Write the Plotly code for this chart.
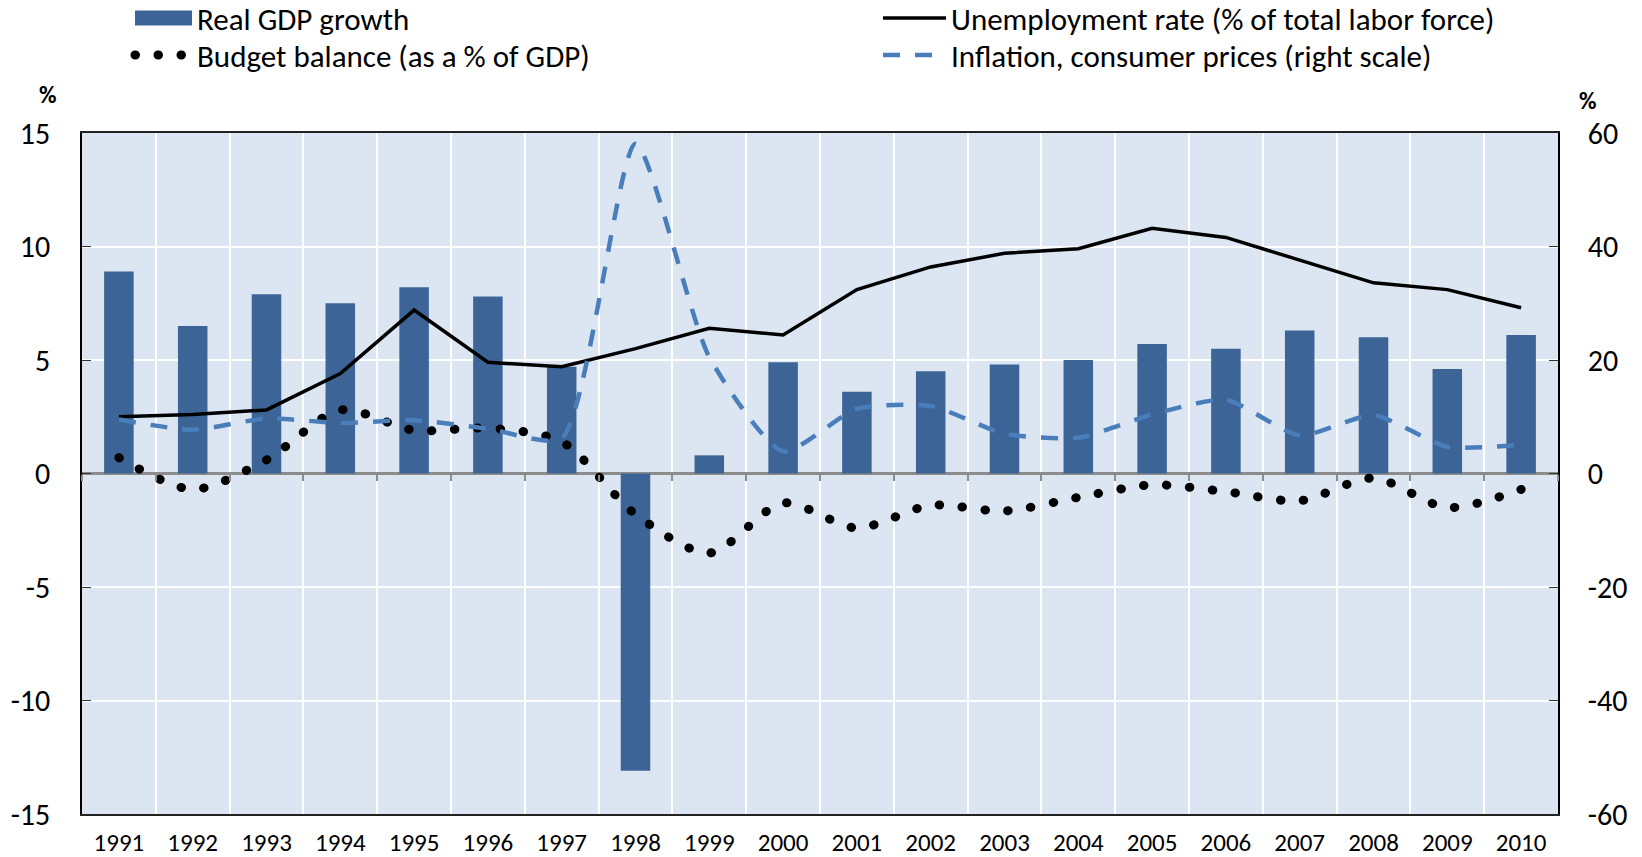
import plotly.graph_objects as go

# ---------------- data ----------------
years = [str(y) for y in range(1991, 2011)]
gdp_growth = [8.9, 6.5, 7.9, 7.5, 8.2, 7.8, 4.7, -13.1, 0.8, 4.9,
              3.6, 4.5, 4.8, 5.0, 5.7, 5.5, 6.3, 6.0, 4.6, 6.1]
unemployment = [2.5, 2.6, 2.8, 4.4, 7.2, 4.9, 4.7, 5.5, 6.4, 6.1,
                8.1, 9.1, 9.7, 9.9, 10.8, 10.4, 9.4, 8.4, 8.1, 7.3]
budget_balance = [0.7, -0.7, 0.6, 2.8, 1.9, 2.0, 1.4, -1.8, -3.5, -1.3,
                  -2.4, -1.4, -1.65, -1.05, -0.5, -0.8, -1.2, -0.2, -1.5, -0.7]
inflation = [9.5, 7.7, 9.7, 8.9, 9.4, 7.9, 6.2, 58.1, 20.5, 3.9,
             11.4, 11.9, 7.0, 6.3, 10.4, 13.0, 6.7, 10.3, 4.7, 5.1]
left_ticks = [-15, -10, -5, 0, 5, 10, 15]
right_ticks = [-60, -40, -20, 0, 20, 40, 60]

# ---------------- style ----------------
W, H = 1642, 857
L, R, T, B = 82, 84, 133, 43
FONT = "Carlito, Calibri, 'Liberation Sans Narrow', 'DejaVu Sans Condensed', 'Open Sans', sans-serif"
BAR = "#3C6496"
DASH = "#4A7EBB"
BG = "#DCE6F2"
LEG_FS = 31

pw = W - L - R
ph = H - T - B


def paper_y(px_from_top):
    return (H - B - px_from_top) / ph


def leg(x_px, top_px, itemwidth):
    return dict(xref="container", yref="paper", x=x_px / W, y=paper_y(top_px),
                xanchor="left", yanchor="top", orientation="v",
                font=dict(size=LEG_FS, family=FONT), bgcolor="rgba(0,0,0,0)",
                traceorder="normal", itemwidth=itemwidth, tracegroupgap=0)


row1_top = 20 - (0.65 * LEG_FS + 8.5)
row2_top = 57 - (0.65 * LEG_FS + 8.5)

fig = go.Figure()
fig.add_trace(go.Bar(x=years, y=gdp_growth, name="Real GDP growth",
                     marker=dict(color=BAR, line=dict(width=0)),
                     legend="legend"))
fig.add_trace(go.Scatter(x=years, y=unemployment, mode="lines",
                         name="Unemployment rate (% of total labor force)",
                         line=dict(color="black", width=3.5),
                         legend="legend2"))
fig.add_trace(go.Scatter(x=years, y=budget_balance, mode="lines",
                         name="Budget balance (as a % of GDP)",
                         line=dict(color="black", width=9, dash="0.5px,22.5px",
                                   shape="spline", smoothing=0.8),
                         legend="legend3"))
fig.add_trace(go.Scatter(x=years, y=inflation, mode="lines",
                         name="Inflation, consumer prices (right scale)",
                         line=dict(color=DASH, width=4.5, dash="17px,15px",
                                   shape="spline", smoothing=0.6),
                         xaxis="x2", yaxis="y2", legend="legend4"))

fig.update_layout(
    width=W, height=H,
    margin=dict(l=L, r=R, t=T, b=B, autoexpand=False),
    paper_bgcolor="white", plot_bgcolor=BG,
    font=dict(family=FONT, color="black", size=26),
    bargap=0.6,
    showlegend=True,
    legend=leg(130, row1_top, 57),
    legend3=leg(130, row2_top, 57),
    legend2=leg(878, row1_top, 63),
    legend4=leg(878, row2_top, 63),
    xaxis=dict(type="category", range=[-0.5, 19.5], tickson="boundaries",
               showgrid=True, gridcolor="white", gridwidth=1.5,
               ticks="", showline=True, linecolor="#222222", linewidth=2,
               mirror=True, tickfont=dict(size=25), ticklabelstandoff=5,
               fixedrange=True),
    xaxis2=dict(type="category", overlaying="x", anchor="free", position=0.5,
                range=[-0.5, 19.5], tickson="boundaries", showgrid=False,
                ticks="outside", ticklen=6, tickcolor="#8C8C8C", tickwidth=1.5,
                showticklabels=False, showline=False, matches="x"),
    yaxis=dict(range=[-15, 15], tickvals=left_ticks,
               ticktext=[str(v) for v in left_ticks], showgrid=True,
               gridcolor="white", gridwidth=1.5, zeroline=True,
               zerolinecolor="#8C8C8C", zerolinewidth=2.5,
               showline=True, linecolor="black", linewidth=1.5,
               ticks="inside", ticklen=9, tickcolor="#333333",
               tickfont=dict(size=30), ticklabelstandoff=24),
    yaxis2=dict(range=[-60, 60], tickvals=right_ticks,
                ticktext=[str(v) for v in right_ticks], overlaying="y",
                side="right", anchor="x", showgrid=False, zeroline=False,
                showline=True, linecolor="black", linewidth=1.5,
                ticks="inside", ticklen=9, tickcolor="#333333",
                tickfont=dict(size=30), ticklabelstandoff=22),
    annotations=[
        dict(text="<b>%</b>", xref="paper", yref="paper",
             x=(48 - L) / pw, y=paper_y(94), showarrow=False,
             xanchor="center", yanchor="middle", font=dict(size=24)),
        dict(text="<b>%</b>", xref="paper", yref="paper",
             x=(1588 - L) / pw, y=paper_y(100), showarrow=False,
             xanchor="center", yanchor="middle", font=dict(size=24)),
    ],
)

post = """
(function(){
  document.documentElement.style.margin = '0';
  document.documentElement.style.overflow = 'hidden';
  document.body.style.margin = '0';
  document.body.style.padding = '0';
  document.body.style.overflow = 'hidden';
  var gd = document.getElementById('{plot_id}');
  function fix(){
    document.querySelectorAll('path.js-line').forEach(function(p){
      var d = p.style.strokeDasharray || '';
      if (d.indexOf('22.5') >= 0) {
        p.style.strokeLinecap = 'round';
        p.style.strokeWidth = '9px';
      }
    });
    document.querySelectorAll('.legendpoints path').forEach(function(p){
      var d = (p.getAttribute('d') || '').replace(/\\s/g, '');
      if (d === 'M6,6H-6V-6H6Z') {
        p.setAttribute('d', 'M28.5,7.5H-28.5V-7.5H28.5Z');
      }
    });
  }
  fix();
  if (gd && gd.on) { gd.on('plotly_afterplot', fix); }
  setTimeout(fix, 50);
})();
"""

fig.write_html("out.html", post_script=post, config={"displayModeBar": False})
